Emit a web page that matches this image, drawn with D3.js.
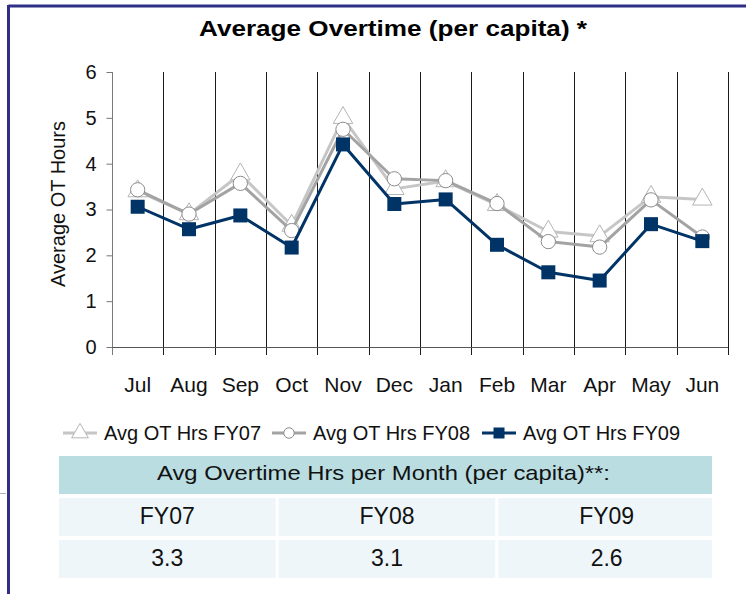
<!DOCTYPE html>
<html>
<head>
<meta charset="utf-8">
<script src="https://cdn.jsdelivr.net/npm/d3@7"></script>
<style>
  body { margin: 0; background: #fff; }
  svg text { font-family: "Liberation Sans", Arial, sans-serif; }
  .title { font-weight: bold; }
</style>
</head>
<body>
<div id="chart"></div>
<script>
// months of the fiscal year
const months = ['Jul', 'Aug', 'Sep', 'Oct', 'Nov', 'Dec', 'Jan', 'Feb', 'Mar', 'Apr', 'May', 'Jun'];

// average OT hours per month
const fy07 = [3.4, 2.9, 3.77, 2.65, 5.0, 3.45, 3.62, 3.1, 2.52, 2.42, 3.28, 3.22];
const fy08 = [3.43, 2.9, 3.57, 2.54, 4.75, 3.67, 3.63, 3.13, 2.3, 2.18, 3.21, 2.4];
const fy09 = [3.06, 2.57, 2.87, 2.17, 4.42, 3.12, 3.22, 2.23, 1.63, 1.45, 2.68, 2.31];

const yTicks = [0, 1, 2, 3, 4, 5, 6];

// summary table
const tableYears = ['FY07', 'FY08', 'FY09'];
const tableValues = ['3.3', '3.1', '2.6'];

const width = 746;
const height = 594;

const svg = d3.select('#chart')
    .append('svg')
    .attr('width', width)
    .attr('height', height);

// рамка слайда
svg.append('line')
    .attr('x1', 8.5).attr('y1', 6).attr('x2', width).attr('y2', 6)
    .attr('stroke', '#2f2f85').attr('stroke-width', 3);
svg.append('line')
    .attr('x1', 8.5).attr('y1', 5).attr('x2', 8.5).attr('y2', height)
    .attr('stroke', '#2f2f85').attr('stroke-width', 3);
svg.append('line')
    .attr('x1', 0).attr('y1', 493.5).attr('x2', 6).attr('y2', 493.5)
    .attr('stroke', '#b0b0c0').attr('stroke-width', 1);

svg.append('text')
    .attr('class', 'title')
    .attr('x', 199)
    .attr('y', 36)
    .attr('font-size', 22)
    .attr('textLength', 388)
    .attr('lengthAdjust', 'spacingAndGlyphs')
    .text('Average Overtime (per capita) *');

const x = d3.scaleBand().domain(months).range([112, 728]).padding(0);
const y = d3.scaleLinear().domain([0, 6]).range([347, 72]);

// vertical gridlines at category boundaries
const bounds = months.map(m => x(m)).concat([x.range()[1]]);
svg.append('g')
    .selectAll('line')
    .data(bounds)
    .enter().append('line')
    .attr('x1', d => Math.round(d) + 0.5)
    .attr('x2', d => Math.round(d) + 0.5)
    .attr('y1', y(6))
    .attr('y2', y(0) + 8)
    .attr('stroke', (d, i) => i === 0 ? '#7a7a7a' : '#1a1a1a')
    .attr('stroke-width', 1);

// x axis line
svg.append('line')
    .attr('x1', 112).attr('x2', 728)
    .attr('y1', y(0) + 0.5).attr('y2', y(0) + 0.5)
    .attr('stroke', '#555');

// y axis
const yAxis = svg.append('g')
    .attr('transform', 'translate(112.5,0)')
    .call(d3.axisLeft(y).tickValues(yTicks).tickSize(6).tickPadding(10).tickFormat(d3.format('d')));
yAxis.select('.domain').remove();
yAxis.selectAll('line').attr('stroke', '#777');
yAxis.selectAll('text').attr('font-size', 20).attr('fill', '#111');

// month labels
const xAxis = svg.append('g')
    .attr('transform', `translate(0,${y(0)})`)
    .call(d3.axisBottom(x).tickSize(0).tickPadding(30));
xAxis.select('.domain').remove();
xAxis.selectAll('text').attr('font-size', 21).attr('fill', '#111');

svg.append('text')
    .attr('transform', 'translate(65,204) rotate(-90)')
    .attr('text-anchor', 'middle')
    .attr('font-size', 20)
    .attr('fill', '#111')
    .text('Average OT Hours');

const cx = i => x(months[i]) + x.bandwidth() / 2;
const line = d3.line().x((d, i) => cx(i)).y(d => y(d));

const series = [
    { name: 'Avg OT Hrs FY07', values: fy07, color: '#c6c6c6', marker: 'triangle' },
    { name: 'Avg OT Hrs FY08', values: fy08, color: '#a3a3a3', marker: 'circle' },
    { name: 'Avg OT Hrs FY09', values: fy09, color: '#003366', marker: 'square' }
];

function drawMarker(g, type, color, size) {
    if (type === 'triangle') {
        g.append('path')
            .attr('d', d3.symbol().type(d3.symbolTriangle).size(size * 11)())
            .attr('fill', '#fff').attr('stroke', '#b5b5b5').attr('stroke-width', 1);
    } else if (type === 'circle') {
        g.append('circle')
            .attr('r', size / 2.1)
            .attr('fill', '#fff').attr('stroke', '#8c8c8c').attr('stroke-width', 1);
    } else {
        g.append('rect')
            .attr('x', -size / 2).attr('y', -size / 2)
            .attr('width', size).attr('height', size)
            .attr('fill', color);
    }
}

series.forEach(s => {
    svg.append('path')
        .datum(s.values)
        .attr('d', line)
        .attr('fill', 'none')
        .attr('stroke', s.color)
        .attr('stroke-width', 3)
        .attr('stroke-linejoin', 'round');

    svg.append('g')
        .selectAll('g')
        .data(s.values)
        .enter().append('g')
        .attr('transform', (d, i) => `translate(${cx(i)},${y(d)})`)
        .each(function () { drawMarker(d3.select(this), s.marker, s.color, s.marker === 'square' ? 14 : 15); });
});

// legend
const legendX = [63, 272, 482];
series.forEach((s, i) => {
    const g = svg.append('g').attr('transform', `translate(${legendX[i]},433)`);
    g.append('line')
        .attr('x1', 0).attr('x2', 34)
        .attr('stroke', s.color).attr('stroke-width', 3);
    const m = g.append('g').attr('transform', 'translate(17,0)');
    drawMarker(m, s.marker, s.color, 11);
    g.append('text')
        .attr('x', 41)
        .attr('y', 7)
        .attr('font-size', 20)
        .attr('fill', '#111')
        .text(s.name);
});

// summary table
const tbl = svg.append('g');
tbl.append('rect')
    .attr('x', 59).attr('y', 456).attr('width', 653).attr('height', 38)
    .attr('fill', '#badde1');
tbl.append('text')
    .attr('x', 157).attr('y', 480)
    .attr('font-size', 21)
    .attr('textLength', 453)
    .attr('lengthAdjust', 'spacingAndGlyphs')
    .attr('fill', '#111')
    .text('Avg Overtime Hrs per Month (per capita)**:');

const colX = d3.scaleBand().domain(tableYears).range([59, 715]).paddingInner(0.014);
const rows = [tableYears, tableValues];
rows.forEach((row, r) => {
    const ry = 498 + r * 42;
    row.forEach((v, c) => {
        const col = tableYears[c];
        tbl.append('rect')
            .attr('x', colX(col)).attr('y', ry)
            .attr('width', Math.min(colX.bandwidth(), 712 - colX(col))).attr('height', 38)
            .attr('fill', '#eef6f9');
        tbl.append('text')
            .attr('x', colX(col) + colX.bandwidth() / 2)
            .attr('y', ry + 26)
            .attr('text-anchor', 'middle')
            .attr('font-size', 23)
            .attr('fill', '#111')
            .text(v);
    });
});
</script>
</body>
</html>
